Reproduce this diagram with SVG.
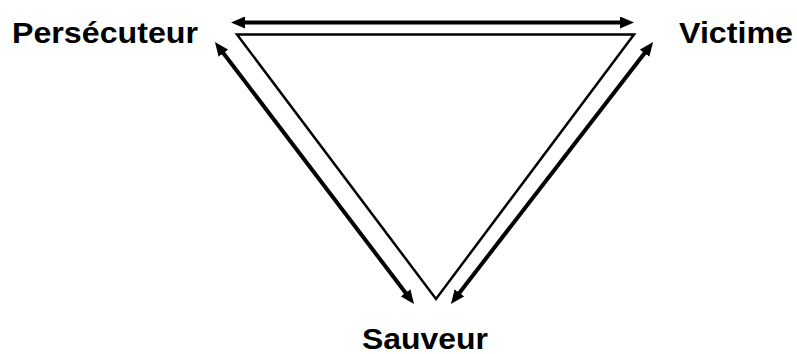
<svg xmlns="http://www.w3.org/2000/svg" width="797" height="354" viewBox="0 0 797 354">
<style>
.lbl{font-family:"Liberation Sans",Arial,sans-serif;font-weight:bold;font-size:30px;fill:#000}
.arr{stroke:#000;stroke-width:4;fill:none}
.tri{stroke:#000;stroke-width:2.5;fill:none;stroke-linejoin:miter}
</style>
<defs>
<marker id="ah" viewBox="0 0 14 12" markerWidth="14" markerHeight="12" refX="4" refY="6" orient="auto-start-reverse" markerUnits="userSpaceOnUse">
<path d="M0,0 L14,6 L0,12 z" fill="#000"/>
</marker>
</defs>
<rect width="797" height="354" fill="#fff"/>
<g id="triangle">
<polygon class="tri" points="237,34.5 634,34.5 436,299"/>
</g>
<g id="connectors">
<line class="arr" x1="241" y1="22.5" x2="624" y2="22.5" marker-start="url(#ah)" marker-end="url(#ah)"/>
<line class="arr" x1="221" y1="50" x2="408" y2="296" marker-start="url(#ah)" marker-end="url(#ah)"/>
<line class="arr" x1="647" y1="50" x2="457" y2="296" marker-start="url(#ah)" marker-end="url(#ah)"/>
</g>
<g id="persecuteur"><text class="lbl" x="12" y="43" textLength="186" lengthAdjust="spacingAndGlyphs">Persécuteur</text></g>
<g id="victime"><text class="lbl" x="679" y="42.5" textLength="114" lengthAdjust="spacingAndGlyphs">Victime</text></g>
<g id="sauveur"><text class="lbl" x="362" y="349" textLength="126" lengthAdjust="spacingAndGlyphs">Sauveur</text></g>
</svg>
